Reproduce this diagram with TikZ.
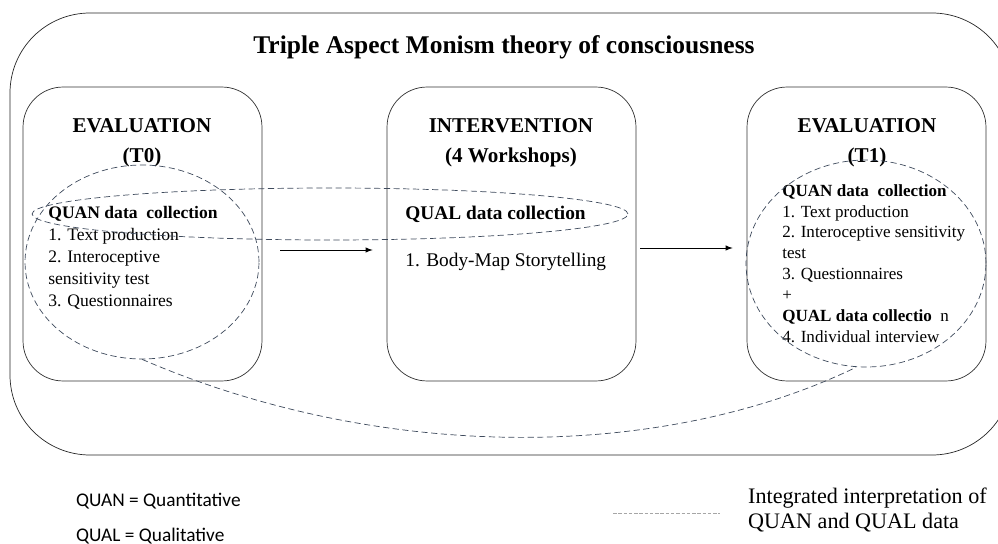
\documentclass[tikz,border=0pt]{standalone}
\usepackage{fontspec}
\setmainfont{Liberation Serif}
\newfontfamily\legendfont{Carlito}
\usetikzlibrary{shapes.geometric}

\definecolor{dashgray}{HTML}{3E4A5C}

\begin{document}
\begin{tikzpicture}[x=0.02cm,y=-0.02cm,
  phase/.style={draw=black!80, rounded corners=0.8cm, minimum width=4.78cm, minimum height=5.88cm, thin},
  link/.style={draw=dashgray, dash pattern=on 3.5pt off 2pt, thin},
  arr/.style={-latex, thin}]
\useasboundingbox (0,0) rectangle (998,544);
% frame and title
\draw[black!85, rounded corners=1.6cm] (10,13) rectangle (1012,455);
\node (title) at (504,47) {\fontsize{14.5}{17}\selectfont\bfseries Triple\ Aspect\ Monism\ theory of consciousness};
%
\node[phase] (t0) at (142.5,234) {};
\node[phase, minimum width=4.98cm] (ws) at (511.5,234) {};
\node[phase] (t1) at (866.5,234) {};
%
\node[align=center, font=\fontsize{12}{17}\selectfont\bfseries] (h0) at (142,143) {EVALUATION\\(T0)};
\node[align=center, font=\fontsize{12}{17}\selectfont\bfseries] (hw) at (511,143) {INTERVENTION\\(4 Workshops)};
\node[align=center, font=\fontsize{12}{17}\selectfont\bfseries] (h1) at (867,143) {EVALUATION\\(T1)};
%
\node[anchor=north west, align=left, inner sep=0, font=\fontsize{10}{12.5}\selectfont] (l0) at (48,206)
  {\textbf{QUAN data\ \ collection}\\1. Text production\\2. Interoceptive\\sensitivity test\\3. Questionnaires};
\node[anchor=west, inner sep=0, font=\fontsize{11}{13}\selectfont\bfseries] (lw) at (405,214) {QUAL data collection};
\node[anchor=west, inner sep=0, font=\fontsize{11}{13}\selectfont] (bm) at (405,262) {1. Body-Map Storytelling};
\node[anchor=north west, align=left, inner sep=0, font=\fontsize{9.7}{11.9}\selectfont] (l1) at (782,184)
  {\textbf{QUAN data\ \ collection}\\1. Text production\\2. Interoceptive sensitivity\\test\\3. Questionnaires\\+\\\textbf{QUAL data collectio\ \ }n\\4. Individual interview};
%
\draw[arr] ([xshift=0.36cm,yshift=-0.32cm]t0.east) -- ([xshift=-0.28cm,yshift=-0.32cm]ws.west);
\draw[arr] ([xshift=0.08cm,yshift=-0.28cm]ws.east) -- ([xshift=-0.28cm,yshift=-0.28cm]t1.west);
%
\node[link, ellipse, inner sep=0, minimum width=4.68cm, minimum height=3.88cm] (qnL) at (142,262) {};
\node[link, ellipse, inner sep=0, minimum width=11.92cm, minimum height=1.04cm] (qlM) at (330,214) {};
\node[link, ellipse, inner sep=0, minimum width=4.8cm, minimum height=4.14cm] (qnR) at (866,263.5) {};
\draw[link] (qnL.south) .. controls (380,462) and (660,462) .. ([xshift=-0.2cm]qnR.south);
%
\node[anchor=west, font=\legendfont\fontsize{11}{13}\selectfont] (quan) at (70,501) {QUAN = Quantitative};
\node[anchor=west, font=\legendfont\fontsize{11}{13}\selectfont] (qual) at (70,536) {QUAL = Qualitative};
\coordinate (ks) at (613,513);
\coordinate (ke) at (720,513);
\draw[black!35, dash pattern=on 2pt off 1pt] (ks) -- (ke);
\node[anchor=west, align=left, font=\fontsize{12.6}{14.5}\selectfont] (key) at (742,510) {Integrated interpretation of\\QUAN and QUAL data};
\end{tikzpicture}
\end{document}
